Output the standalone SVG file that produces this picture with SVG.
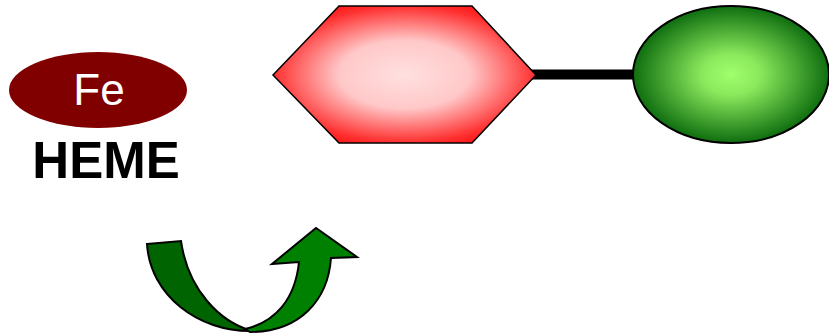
<svg xmlns="http://www.w3.org/2000/svg" width="829" height="336" viewBox="0 0 829 336">
<style>
.lbl{font-family:"Liberation Sans",Arial,sans-serif}
.arrow{stroke:#000;stroke-width:2;stroke-linejoin:miter}
</style>
<defs>
<radialGradient id="gRed" cx="50%" cy="50%" r="62%">
<stop offset="0" stop-color="#ffe0e0"/>
<stop offset="0.4" stop-color="#ffc8c8"/>
<stop offset="0.8" stop-color="#ff3030"/>
<stop offset="1" stop-color="#ff0000"/>
</radialGradient>
<radialGradient id="gGreen" cx="50%" cy="50%" r="50%">
<stop offset="0" stop-color="#a0ff6c"/>
<stop offset="0.3" stop-color="#8ae85c"/>
<stop offset="1" stop-color="#0f6e0f"/>
</radialGradient>
</defs>
<g id="connectors">
<line x1="530" y1="74.5" x2="636" y2="74.5" stroke="#000" stroke-width="10"/>
</g>
<g id="heme">
<ellipse cx="98" cy="90" rx="89" ry="38" fill="#800000"/>
<text x="99" y="105" class="lbl" font-size="44" fill="#fff" text-anchor="middle">Fe</text>
<text x="106" y="178" class="lbl" font-size="51" font-weight="bold" fill="#000" text-anchor="middle">HEME</text>
</g>
<g id="hexagon">
<polygon points="273,75 339,6 472,6 536,75 472,143 339,143" fill="url(#gRed)" stroke="#000" stroke-width="1.5"/>
</g>
<g id="ellipse">
<ellipse cx="731" cy="74.5" rx="98" ry="68.5" fill="url(#gGreen)" stroke="#000" stroke-width="2"/>
</g>
<g id="curved-arrow">
<path class="arrow" fill="#006400" d="M147,244 L181,241 C188,290 220,322 252,331 C198,332 150,295 147,244 Z"/>
<path class="arrow" fill="#008000" d="M245,329 C275,322 295,300 299,262 L272,264 L316,228 L357,257 L331,258 C328,300 300,332 250,332 Z"/>
</g>
</svg>
